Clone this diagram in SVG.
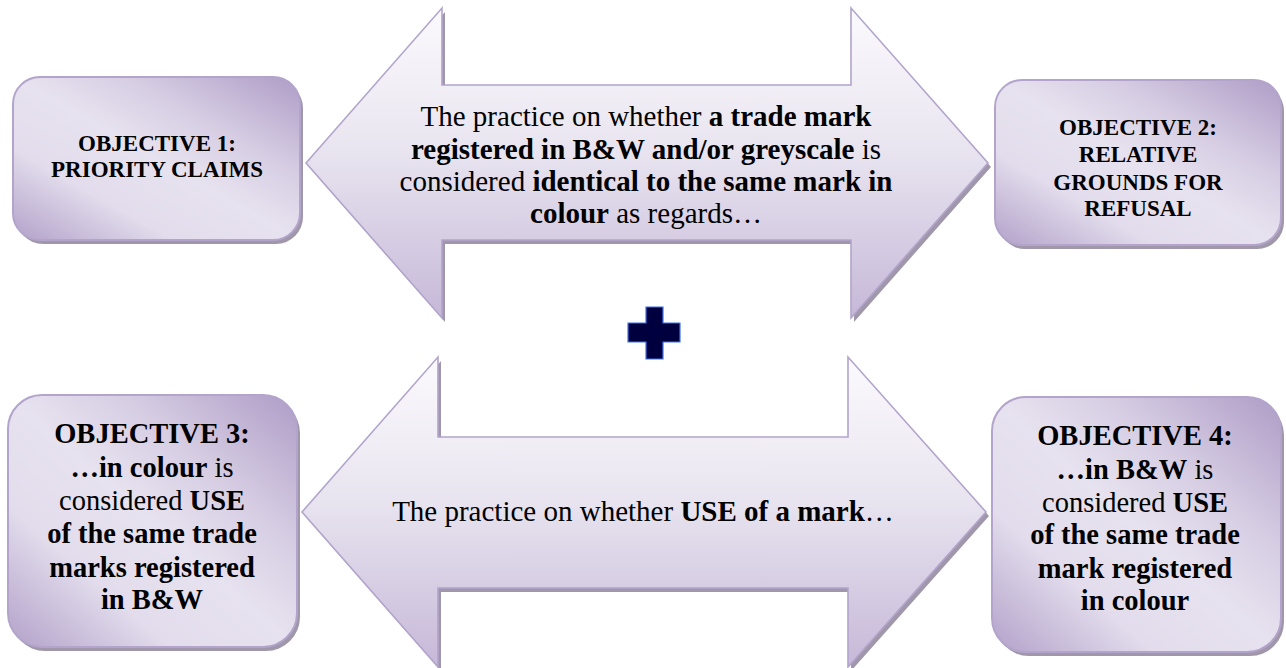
<svg xmlns="http://www.w3.org/2000/svg" width="1286" height="668" viewBox="0 0 1286 668">
<defs>
<linearGradient id="boxGrad" x1="1" y1="0" x2="0" y2="1">
<stop offset="0" stop-color="#ae9cc6"/>
<stop offset="0.3" stop-color="#d6cde3"/>
<stop offset="0.5" stop-color="#e7e2ef"/>
<stop offset="0.72" stop-color="#e2dcec"/>
<stop offset="1" stop-color="#b2a1c9"/>
</linearGradient>
<linearGradient id="arrowGrad" x1="0" y1="0" x2="0" y2="1">
<stop offset="0" stop-color="#fbfafd"/>
<stop offset="0.45" stop-color="#e9e5f0"/>
<stop offset="1" stop-color="#c6b8d8"/>
</linearGradient>
<style>
.box{fill:url(#boxGrad);stroke:#b3a4cb;stroke-width:2}
.shadow{fill:#a097ab}
.arrow{fill:url(#arrowGrad);stroke:#b2a4cb;stroke-width:1.6;stroke-linejoin:miter}
text{font-family:"Liberation Serif","Times New Roman",serif;fill:#000;text-anchor:middle}
.b{font-weight:bold}
.s23{font-size:23px}
.s28{font-size:28.5px}
.s29{font-size:29px}
.plus{fill:#00003f;stroke:#3f73e6;stroke-width:1.2}
</style>
</defs>
<rect width="1286" height="668" fill="#fff"/>

<g id="arrows">
<g id="arrow-top">
<path class="shadow" transform="translate(3,4)" d="M306,163 L442,8 L442,85 L851,85 L851,8 L988,163 L851,318 L851,240 L442,240 L442,318 Z"/>
<path class="arrow" d="M306,163 L442,8 L442,85 L851,85 L851,8 L988,163 L851,318 L851,240 L442,240 L442,318 Z"/>
<text class="s29" x="646" y="126">The practice on whether <tspan class="b">a trade mark</tspan></text>
<text class="s29" x="646" y="159"><tspan class="b">registered in B&amp;W and/or greyscale</tspan> is</text>
<text class="s29" x="646" y="191">considered <tspan class="b">identical to the same mark in</tspan></text>
<text class="s29" x="646" y="223"><tspan class="b">colour</tspan> as regards…</text>
</g>
<g id="arrow-bottom">
<path class="shadow" transform="translate(3,4)" d="M302,512 L438,357 L438,437 L848,437 L848,357 L986,512 L848,667 L848,588 L438,588 L438,667 Z"/>
<path class="arrow" d="M302,512 L438,357 L438,437 L848,437 L848,357 L986,512 L848,667 L848,588 L438,588 L438,667 Z"/>
<text class="s29" x="643" y="521">The practice on whether <tspan class="b">USE of a mark</tspan>…</text>
</g>
</g>

<g id="plus">
<path class="plus" d="M646,307 H663 V323 H680 V342 H663 V359 H646 V342 H628 V323 H646 Z"/>
</g>

<g id="objective1">
<rect class="shadow" x="16" y="81" width="287" height="163" rx="27"/>
<rect class="box" x="13" y="77" width="287" height="163" rx="27"/>
<text class="s23 b" x="157" y="151">OBJECTIVE 1:</text>
<text class="s23 b" x="157" y="177">PRIORITY CLAIMS</text>
</g>

<g id="objective2">
<rect class="shadow" x="998" y="84" width="286" height="165" rx="27"/>
<rect class="box" x="995" y="80" width="286" height="165" rx="27"/>
<text class="s23 b" x="1138" y="135">OBJECTIVE 2:</text>
<text class="s23 b" x="1138" y="162">RELATIVE</text>
<text class="s23 b" x="1138" y="190">GROUNDS FOR</text>
<text class="s23 b" x="1138" y="216">REFUSAL</text>
</g>

<g id="objective3">
<rect class="shadow" x="11" y="399" width="289" height="252" rx="34"/>
<rect class="box" x="8" y="395" width="289" height="252" rx="34"/>
<text class="s28 b" x="152" y="443">OBJECTIVE 3:</text>
<text class="s28" x="152" y="477"><tspan class="b">…in colour</tspan> is</text>
<text class="s28" x="152" y="510">considered <tspan class="b">USE</tspan></text>
<text class="s28 b" x="152" y="543">of the same trade</text>
<text class="s28 b" x="152" y="577">marks registered</text>
<text class="s28 b" x="152" y="609">in B&amp;W</text>
</g>

<g id="objective4">
<rect class="shadow" x="995" y="401" width="289" height="255" rx="34"/>
<rect class="box" x="992" y="397" width="289" height="255" rx="34"/>
<text class="s28 b" x="1135" y="445">OBJECTIVE 4:</text>
<text class="s28" x="1135" y="479"><tspan class="b">…in B&amp;W</tspan> is</text>
<text class="s28" x="1135" y="512">considered <tspan class="b">USE</tspan></text>
<text class="s28 b" x="1135" y="544">of the same trade</text>
<text class="s28 b" x="1135" y="578">mark registered</text>
<text class="s28 b" x="1135" y="610">in colour</text>
</g>
</svg>
